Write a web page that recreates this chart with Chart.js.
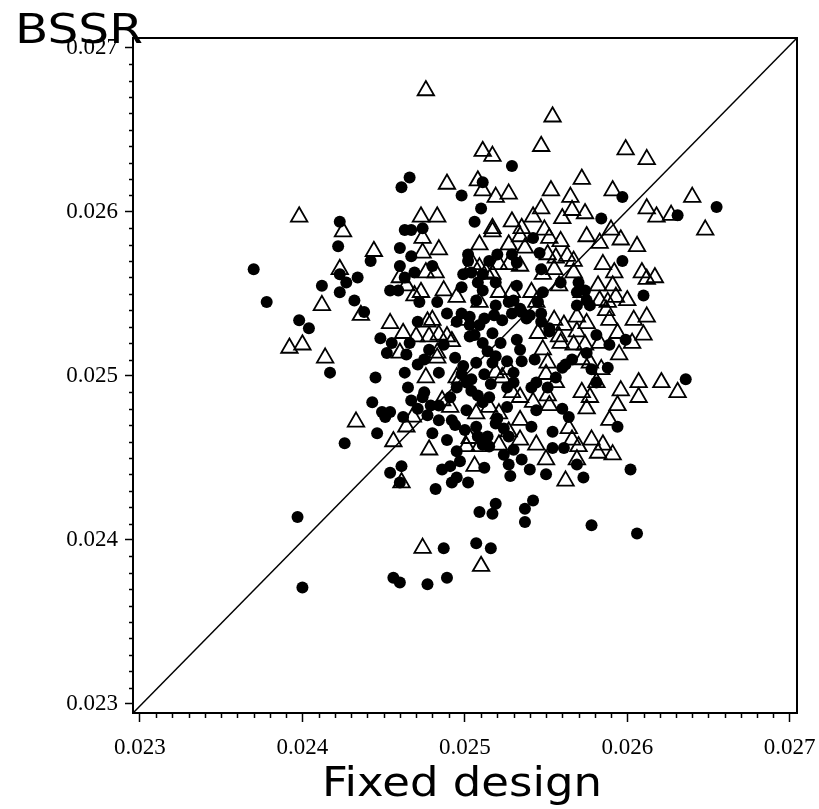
<!DOCTYPE html>
<html><head><meta charset="utf-8">
<script src="https://cdn.jsdelivr.net/npm/chart.js@4/dist/chart.umd.min.js"></script>
<style>html,body{margin:0;padding:0;background:#fff}#wrap{width:819px;height:809px}</style>
</head><body><div id="wrap"><canvas id="c" width="819" height="809"></canvas></div>
<script>
const xTitle = 'Fixed design';
const yTitle = 'BSSR';
const xRange = [0.022957, 0.027045];
const yRange = [0.022945, 0.02706];
const majorTicks = [0.023, 0.024, 0.025, 0.026, 0.027];

const trianglePoints = [
[0.02476,0.02674],[0.02554,0.02658],[0.02547,0.02640],[0.02511,0.02637],[0.02517,0.02634],
[0.02599,0.02638],[0.02612,0.02632],[0.02489,0.02617],[0.02508,0.02619],[0.02511,0.02613],
[0.02572,0.02620],[0.02553,0.02613],[0.02591,0.02613],[0.02640,0.02609],[0.02519,0.02609],
[0.02527,0.02611],[0.02565,0.02609],[0.02398,0.02597],[0.02425,0.02588],[0.02444,0.02576],
[0.02423,0.02565],[0.02412,0.02543],[0.02436,0.02537],[0.02454,0.02532],[0.02460,0.02560],
[0.02473,0.02597],[0.02483,0.02597],[0.02517,0.02590],[0.02517,0.02588],[0.02529,0.02594],
[0.02535,0.02590],[0.02509,0.02580],[0.02474,0.02584],[0.02484,0.02577],[0.02474,0.02575],
[0.02527,0.02580],[0.02534,0.02585],[0.02537,0.02578],[0.02476,0.02563],[0.02482,0.02563],
[0.02505,0.02568],[0.02509,0.02566],[0.02513,0.02563],[0.02517,0.02562],[0.02521,0.02568],
[0.02527,0.02568],[0.02534,0.02567],[0.02464,0.02555],[0.02469,0.02549],[0.02473,0.02551],
[0.02495,0.02548],[0.02521,0.02551],[0.02529,0.02551],[0.02509,0.02545],[0.02480,0.02534],
[0.02477,0.02533],[0.02547,0.02602],[0.02566,0.02601],[0.02574,0.02599],[0.02560,0.02596],
[0.02612,0.02602],[0.02618,0.02597],[0.02627,0.02598],[0.02648,0.02589],[0.02542,0.02597],
[0.02549,0.02589],[0.02552,0.02584],[0.02559,0.02582],[0.02575,0.02585],[0.02583,0.02581],
[0.02590,0.02589],[0.02596,0.02583],[0.02606,0.02579],[0.02551,0.02574],[0.02556,0.02572],
[0.02563,0.02573],[0.02567,0.02570],[0.02555,0.02565],[0.02567,0.02563],[0.02585,0.02568],
[0.02592,0.02563],[0.02609,0.02563],[0.02612,0.02559],[0.02617,0.02560],[0.02591,0.02555],
[0.02548,0.02562],[0.02541,0.02551],[0.02572,0.02551],[0.02583,0.02546],[0.02588,0.02545],
[0.02593,0.02548],[0.02587,0.02540],[0.02612,0.02536],[0.02569,0.02536],[0.02575,0.02532],
[0.02589,0.02534],[0.02544,0.02545],[0.02392,0.02517],[0.02400,0.02519],[0.02414,0.02511],
[0.02433,0.02472],[0.02456,0.02460],[0.02460,0.02514],[0.02470,0.02524],[0.02478,0.02524],
[0.02484,0.02525],[0.02489,0.02524],[0.02492,0.02521],[0.02483,0.02514],[0.02483,0.02511],
[0.02476,0.02499],[0.02495,0.02499],[0.02497,0.02498],[0.02519,0.02502],[0.02523,0.02499],
[0.02527,0.02504],[0.02529,0.02490],[0.02534,0.02487],[0.02486,0.02485],[0.02491,0.02481],
[0.02515,0.02481],[0.02521,0.02477],[0.02468,0.02475],[0.02464,0.02469],[0.02507,0.02477],
[0.02503,0.02462],[0.02509,0.02457],[0.02521,0.02458],[0.02501,0.02457],[0.02527,0.02466],
[0.02534,0.02461],[0.02462,0.02526],[0.02545,0.02526],[0.02558,0.02524],[0.02559,0.02520],
[0.02569,0.02527],[0.02594,0.02526],[0.02603,0.02520],[0.02610,0.02525],[0.02548,0.02516],
[0.02574,0.02519],[0.02583,0.02520],[0.02595,0.02513],[0.02551,0.02508],[0.02572,0.02510],
[0.02577,0.02508],[0.02584,0.02504],[0.02550,0.02501],[0.02556,0.02496],[0.02581,0.02496],
[0.02572,0.02490],[0.02577,0.02487],[0.02575,0.02480],[0.02596,0.02491],[0.02607,0.02496],
[0.02607,0.02487],[0.02594,0.02482],[0.02621,0.02496],[0.02631,0.02490],[0.02542,0.02484],
[0.02552,0.02482],[0.02564,0.02468],[0.02544,0.02458],[0.02566,0.02461],[0.02570,0.02457],
[0.02578,0.02461],[0.02585,0.02458],[0.02582,0.02453],[0.02591,0.02452],[0.02461,0.02435],
[0.02474,0.02395],[0.02506,0.02445],[0.02510,0.02384],[0.02562,0.02436],[0.02550,0.02449],
[0.02569,0.02449],[0.02555,0.02534],[0.02561,0.02531],[0.02582,0.02555],[0.02600,0.02546],
[0.02604,0.02534],[0.02558,0.02555],[0.02551,0.02488],[0.02589,0.02473],[0.02497,0.02534],
[0.02487,0.02552],[0.02534,0.02473],[0.02478,0.02455],[0.02567,0.02519]
];

const circlePoints = [
[0.02529,0.02628],[0.02466,0.02621],[0.02461,0.02615],[0.02511,0.02618],[0.02498,0.02610],
[0.02597,0.02609],[0.02423,0.02594],[0.02422,0.02579],[0.02370,0.02565],[0.02442,0.02570],
[0.02460,0.02578],[0.02423,0.02562],[0.02434,0.02560],[0.02427,0.02557],[0.02412,0.02555],
[0.02423,0.02551],[0.02432,0.02546],[0.02378,0.02545],[0.02438,0.02539],[0.02398,0.02534],
[0.02404,0.02529],[0.02460,0.02567],[0.02454,0.02552],[0.02459,0.02552],[0.02510,0.02602],
[0.02506,0.02594],[0.02463,0.02589],[0.02467,0.02589],[0.02474,0.02590],[0.02467,0.02573],
[0.02480,0.02567],[0.02469,0.02563],[0.02502,0.02574],[0.02520,0.02574],[0.02529,0.02574],
[0.02532,0.02569],[0.02499,0.02562],[0.02504,0.02563],[0.02511,0.02562],[0.02498,0.02554],
[0.02511,0.02552],[0.02519,0.02557],[0.02532,0.02555],[0.02463,0.02560],[0.02472,0.02545],
[0.02483,0.02545],[0.02507,0.02546],[0.02519,0.02543],[0.02527,0.02545],[0.02534,0.02541],
[0.02489,0.02538],[0.02498,0.02538],[0.02503,0.02536],[0.02495,0.02533],[0.02512,0.02535],
[0.02518,0.02537],[0.02523,0.02534],[0.02529,0.02538],[0.02535,0.02539],[0.02471,0.02533],
[0.02584,0.02596],[0.02631,0.02598],[0.02655,0.02603],[0.02542,0.02584],[0.02546,0.02575],
[0.02547,0.02565],[0.02597,0.02570],[0.02559,0.02557],[0.02570,0.02557],[0.02569,0.02551],
[0.02548,0.02551],[0.02610,0.02549],[0.02569,0.02543],[0.02577,0.02543],[0.02545,0.02545],
[0.02547,0.02538],[0.02547,0.02533],[0.02552,0.02529],[0.02540,0.02537],[0.02417,0.02502],
[0.02445,0.02499],[0.02448,0.02523],[0.02455,0.02520],[0.02452,0.02514],[0.02443,0.02484],
[0.02449,0.02478],[0.02454,0.02478],[0.02451,0.02475],[0.02446,0.02465],[0.02426,0.02459],
[0.02466,0.02520],[0.02464,0.02513],[0.02475,0.02510],[0.02463,0.02502],[0.02465,0.02493],
[0.02484,0.02502],[0.02494,0.02511],[0.02499,0.02506],[0.02503,0.02524],[0.02511,0.02520],
[0.02517,0.02526],[0.02522,0.02520],[0.02526,0.02509],[0.02517,0.02508],[0.02507,0.02508],
[0.02532,0.02522],[0.02535,0.02509],[0.02501,0.02496],[0.02508,0.02488],[0.02515,0.02487],
[0.02526,0.02493],[0.02530,0.02496],[0.02474,0.02487],[0.02471,0.02480],[0.02477,0.02476],
[0.02462,0.02475],[0.02492,0.02473],[0.02501,0.02479],[0.02511,0.02484],[0.02526,0.02481],
[0.02500,0.02467],[0.02507,0.02469],[0.02519,0.02471],[0.02480,0.02465],[0.02514,0.02463],
[0.02527,0.02463],[0.02495,0.02454],[0.02511,0.02458],[0.02530,0.02455],[0.02504,0.02491],
[0.02491,0.02487],[0.02484,0.02482],[0.02552,0.02527],[0.02581,0.02525],[0.02589,0.02519],
[0.02599,0.02522],[0.02543,0.02510],[0.02560,0.02505],[0.02566,0.02510],[0.02575,0.02514],
[0.02578,0.02504],[0.02588,0.02505],[0.02581,0.02496],[0.02556,0.02499],[0.02541,0.02493],
[0.02551,0.02493],[0.02544,0.02479],[0.02560,0.02480],[0.02564,0.02475],[0.02541,0.02469],
[0.02554,0.02466],[0.02554,0.02456],[0.02561,0.02456],[0.02594,0.02469],[0.02636,0.02498],
[0.02454,0.02441],[0.02461,0.02445],[0.02460,0.02435],[0.02486,0.02443],[0.02491,0.02445],
[0.02492,0.02435],[0.02495,0.02438],[0.02502,0.02435],[0.02482,0.02431],[0.02497,0.02448],
[0.02397,0.02414],[0.02509,0.02417],[0.02487,0.02395],[0.02507,0.02398],[0.02456,0.02377],
[0.02460,0.02374],[0.02477,0.02373],[0.02489,0.02377],[0.02400,0.02371],[0.02512,0.02444],
[0.02527,0.02446],[0.02528,0.02439],[0.02535,0.02449],[0.02550,0.02440],[0.02569,0.02446],
[0.02573,0.02438],[0.02602,0.02443],[0.02519,0.02422],[0.02517,0.02416],[0.02542,0.02424],
[0.02537,0.02419],[0.02537,0.02411],[0.02578,0.02409],[0.02606,0.02404],[0.02516,0.02395],
[0.02506,0.02525],[0.02514,0.02515],[0.02519,0.02512],[0.02498,0.02501],[0.02504,0.02498],
[0.02495,0.02493],[0.02475,0.02490],[0.02479,0.02482],[0.02520,0.02474],[0.02524,0.02468],
[0.02508,0.02463],[0.02515,0.02457],[0.02494,0.02470],[0.02502,0.02570],[0.02508,0.02557],
[0.02515,0.02570],[0.02530,0.02546],[0.02538,0.02535],[0.02503,0.02531],[0.02509,0.02531],
[0.02562,0.02507],[0.02544,0.02496],[0.02574,0.02552],[0.02575,0.02546],[0.02487,0.02519],
[0.02478,0.02516],[0.02534,0.02516],[0.02530,0.02502],[0.02512,0.02501],[0.02516,0.02495],
[0.02471,0.02507],[0.02467,0.02485],[0.02484,0.02473],[0.02489,0.02461],[0.02524,0.02452],
[0.02540,0.02443]
];

const toXY = arr => arr.map(p => ({x: p[0], y: p[1]}));
const minorStep = 0.0001;

function isMajor(v) { return majorTicks.some(m => Math.abs(m - v) < 1e-9); }

const framePlugin = {
  id: 'frame',
  afterDraw(chart) {
    const ctx = chart.ctx, a = chart.chartArea;
    const xs = chart.scales.x, ys = chart.scales.y;
    ctx.save();
    ctx.strokeStyle = '#000';
    ctx.lineWidth = 2;
    ctx.strokeRect(a.left, a.top, a.right - a.left, a.bottom - a.top);
    ctx.lineWidth = 1.5;
    ctx.beginPath();
    for (let k = 229; k <= 271; k++) {
      const v = k * minorStep;
      if (isMajor(v)) continue;
      if (v >= xRange[0] && v <= xRange[1]) {
        const px = Math.round(xs.getPixelForValue(v)) + 0.5;
        ctx.moveTo(px, a.bottom); ctx.lineTo(px, a.bottom + 5);
      }
      if (v >= yRange[0] && v <= yRange[1]) {
        const py = Math.round(ys.getPixelForValue(v)) + 0.5;
        ctx.moveTo(a.left, py); ctx.lineTo(a.left - 4, py);
      }
    }
    ctx.stroke();
    ctx.fillStyle = '#000';
    ctx.font = '41px "DejaVu Sans"';
    ctx.textBaseline = 'alphabetic';
    ctx.textAlign = 'left';
    let w = ctx.measureText(yTitle).width;
    ctx.save();
    ctx.translate(15, 43);
    ctx.scale(128 / w, 1);
    ctx.fillText(yTitle, 0, 0);
    ctx.restore();
    w = ctx.measureText(xTitle).width;
    ctx.save();
    ctx.translate(322, 796);
    ctx.scale(280 / w, 1);
    ctx.fillText(xTitle, 0, 0);
    ctx.restore();
    ctx.restore();
  }
};

const tickFont = {family: '"Liberation Serif", "Times New Roman", serif', size: 23};

new Chart(document.getElementById('c'), {
  type: 'scatter',
  data: {
    datasets: [
      {
        label: 'circles', data: toXY(circlePoints), pointStyle: 'circle',
        pointRadius: 6, pointHoverRadius: 6, backgroundColor: '#000', borderColor: '#000', borderWidth: 0
      },
      {
        label: 'triangles', data: toXY(trianglePoints), pointStyle: 'triangle',
        pointRadius: 9.5, pointHoverRadius: 9.5, backgroundColor: 'rgba(255,255,255,0)', borderColor: '#000', borderWidth: 1.8
      },
      {
        label: 'diag', type: 'line',
        data: [{x: xRange[0], y: yRange[0]}, {x: xRange[1], y: yRange[1]}],
        borderColor: '#000', borderWidth: 1.5, pointRadius: 0, fill: false
      }
    ]
  },
  options: {
    responsive: false,
    animation: false,
    devicePixelRatio: 1,
    layout: {padding: {top: 38, right: 22, left: 0, bottom: 0}},
    plugins: {legend: {display: false}, tooltip: {enabled: false}, title: {display: false}},
    scales: {
      x: {
        type: 'linear', position: 'bottom', min: xRange[0], max: xRange[1],
        afterBuildTicks: s => { s.ticks = majorTicks.map(v => ({value: v})); },
        afterFit: s => { s.height = 96; s.paddingLeft = 0; s.paddingRight = 0; },
        ticks: {font: tickFont, color: '#000', padding: 12, maxRotation: 0, autoSkip: false,
          callback: v => v.toFixed(3)},
        grid: {drawOnChartArea: false, drawTicks: true, tickLength: 9, tickColor: '#000', tickWidth: 1.5},
        border: {display: true, color: '#000', width: 2}
      },
      y: {
        type: 'linear', position: 'left', min: yRange[0], max: yRange[1],
        afterBuildTicks: s => { s.ticks = majorTicks.map(v => ({value: v})); },
        afterFit: s => { s.width = 133; s.paddingTop = 0; s.paddingBottom = 0; },
        ticks: {font: tickFont, color: '#000', padding: 7, autoSkip: false,
          callback: v => v.toFixed(3)},
        grid: {drawOnChartArea: false, drawTicks: true, tickLength: 8, tickColor: '#000', tickWidth: 1.5},
        border: {display: true, color: '#000', width: 2}
      }
    }
  },
  plugins: [framePlugin]
});
</script>
</body></html>
